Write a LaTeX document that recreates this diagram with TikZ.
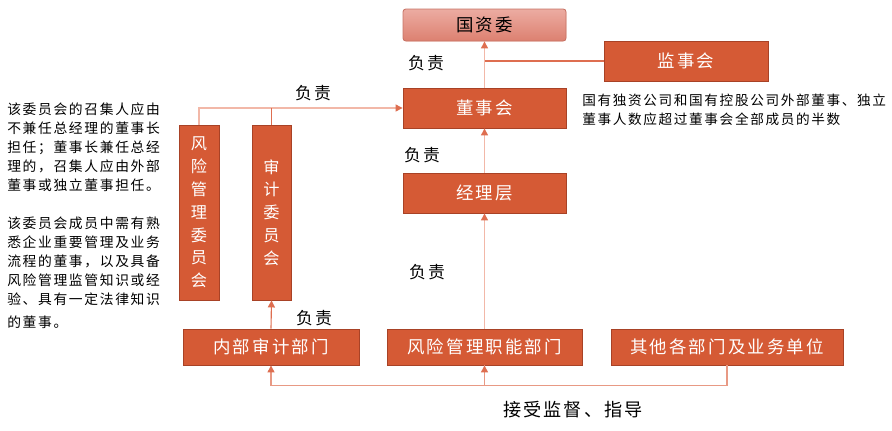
\documentclass[tikz,border=0pt]{standalone}
\usepackage{fontspec}
\usepackage{xcolor}
\usepackage{tikz}
\usetikzlibrary{positioning, shapes, arrows.meta, calc}
\setmainfont{Noto Sans CJK SC}[LetterSpace=12]

\definecolor{boxfill}{RGB}{213,90,53}
\definecolor{boxline}{RGB}{168,66,38}
\definecolor{toptop}{RGB}{236,172,162}
\definecolor{topbot}{RGB}{220,128,112}
\definecolor{lnpink}{RGB}{242,184,168}
\definecolor{lnred}{RGB}{222,110,80}

\begin{document}
\begin{tikzpicture}[
	  x=0.25mm, y=-0.25mm,
	  box/.style={
	    draw=boxline,
	    fill=boxfill,
	    text=white,
	    align=center,
	    inner sep=0pt,
	    line width=0.6pt,
	    font=\fontsize{12.4}{14}\selectfont
	  },
	  hbox/.style={box, minimum width=40.75mm, minimum height=10mm},
	  lowbox/.style={box, minimum height=9mm},
	  vbox/.style={box, minimum width=10mm, minimum height=43.75mm,
	    font=\fontsize{11.5}{16.2}\selectfont},
	  topbox/.style={box, draw=topbot!90!black, rounded corners=2pt,
	    top color=toptop, bottom color=topbot, text=black,
	    minimum width=40.75mm, minimum height=8mm},
	  duty/.style={font=\fontsize{12}{14}\selectfont},
	  note/.style={align=left, anchor=north west, inner sep=0pt,
	    font=\fontsize{9.8}{13.4}\selectfont},
	  pline/.style={draw=lnpink, line width=0.8pt},
	  rline/.style={draw=lnred, line width=0.8pt},
	  bline/.style={draw=lnred!70, line width=0.8pt},
	  tip/.style={-{Triangle[length=5pt,width=5pt,color=lnred]}}
	]
	\useasboundingbox (0,0) rectangle (892,430);

	% --- top ---
	\node[topbox] (guozi) at (484.5,25) {国资委};
	\node[hbox, minimum width=41mm] (jianshi) at (686,61) {监事会};
	\node[hbox] (dongshi) at (484.5,108) {董事会};
	\node[hbox] (jingli) at (484.5,193) {经理层};

	% --- committees ---
	\node[vbox] (fxwy) at (199,212.5) {风\\险\\管\\理\\委\\员\\会};
	\node[vbox, minimum width=9.75mm] (sjwy) at (271.5,212.5) {审\\计\\委\\员\\会};

	% --- bottom row ---
	\node[lowbox, minimum width=44mm] (nbsj) at (271,347) {内部审计部门};
	\node[lowbox, minimum width=48.75mm] (fxzn) at (484.5,347) {风险管理职能部门};
	\node[lowbox, minimum width=58mm] (qita) at (727,347) {其他各部门及业务单位};

	% --- notes ---
	\node[note] (note1) at (7,103) {该委员会的召集人应由\\不兼任总经理的董事长\\担任；董事长兼任总经\\理的，召集人应由外部\\董事或独立董事担任。};
	\node[note] (note2) at (7,217) {该委员会成员中需有熟\\悉企业重要管理及业务\\流程的董事，以及具备\\风险管理监管知识或经\\验、具有一定法律知识\\[3pt]的董事。};
	\node[note, font=\fontsize{9.7}{13.2}\selectfont] (note3) at (582,94) {国有独资公司和国有控股公司外部董事、独立\\董事人数应超过董事会全部成员的半数};

	% --- labels ---
	\node[duty] (fz1) at (426,63) {负责};
	\node[duty] (fz2) at (313,93) {负责};
	\node[duty] (fz3) at (422,155) {负责};
	\node[duty] (fz4) at (427,272) {负责};
	\node[duty] (fz5) at (314,318) {负责};
	\node[font=\fontsize{12.9}{15}\selectfont] (jieshou) at (573,410) {接受监督、指导};

	% --- flows ---
	\draw[pline, tip] (dongshi.north) -- (guozi.south);
	\draw[rline] (jianshi.west) -- (jianshi.west -| dongshi.north);
	\draw[pline, tip] (jingli.north) -- (dongshi.south);
	\draw[pline, tip] (fxzn.north) -- (jingli.south);
	\draw[pline, tip] (fxwy.north) |- (dongshi.west);
	\draw[rline] (sjwy.north) -- (sjwy.north |- dongshi.west);
	\draw[rline, tip] (nbsj.north) -- (sjwy.south);
	\coordinate (bend) at ($(qita.south)+(0,20)$);
	\draw[bline] (qita.south) -- (bend) -| (fxzn.south);
	\draw[bline, tip] (bend) -| (nbsj.south);
	\draw[bline, tip] (bend -| fxzn.south) -- (fxzn.south);

\end{tikzpicture}
\end{document}
